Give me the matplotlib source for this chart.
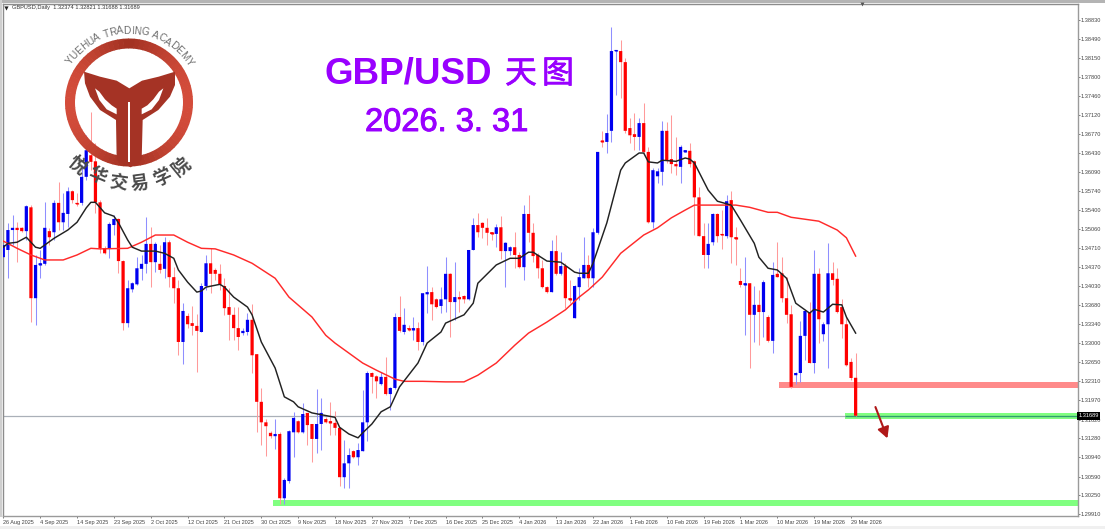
import numpy as np
import matplotlib
matplotlib.use("Agg")
import matplotlib.pyplot as plt
import matplotlib.patheffects as pe
from matplotlib.patches import Polygon, Wedge, Rectangle

plt.rcParams['font.family'] = ['Liberation Sans', 'Noto Sans CJK SC', 'DejaVu Sans']

# ---------- data (prices in units of 0.0001) ----------
directions = ("bbbrrbrbbb" "rbrbbrrbbr" "rrrbbrrbbb" "bbrbrbrrrb" "rrrbbrrrrr"
              "rrbbrrrrrb" "rbbbrbrrbb" "rrrrbbrbbb" "rrbrbbrbrb" "rbbrrbbrbr"
              "rbbrrrrbrb" "brrbrrrrrb" "rbrrbbbrbb" "rbbbrrrrbr" "rbbbrrrbbr"
              "rrrbbrrbrr" "rbrbrbrbrr" "rrbbbrbrbb" "rrrrrr")
body_high = [
 13477,13504,13508,13508,13508,13547,13545,13441,13444,13508,
 13502,13553,13553,13535,13574,13574,13553,13600,13648,13639,
 13628,13554,13471,13515,13524,13524,13448,13399,13408,13435,
 13443,13479,13479,13479,13443,13482,13482,13419,13399,13358,
 13349,13336,13331,13403,13444,13444,13432,13425,13403,13365,
 13351,13327,13322,13342,13342,13280,13194,13157,13138,13136,
 13136,13053,13141,13165,13159,13172,13174,13154,13154,13174,
 13163,13159,13156,13147,13083,13098,13105,13107,13157,13246,
 13246,13240,13239,13239,13219,13347,13347,13333,13327,13327,
 13327,13390,13392,13392,13379,13379,13425,13425,13383,13383,
 13385,13468,13513,13513,13517,13508,13500,13509,13509,13481,
 13473,13473,13459,13533,13533,13499,13459,13435,13401,13466,
 13466,13439,13439,13381,13403,13419,13441,13441,13500,13645,
 13665,13679,13827,13829,13827,13807,13688,13677,13697,13697,
 13645,13612,13610,13683,13683,13632,13623,13654,13648,13647,
 13628,13563,13493,13479,13533,13533,13497,13556,13558,13491,
 13412,13408,13408,13369,13369,13410,13347,13423,13425,13426,
 13381,13352,13246,13313,13358,13356,13425,13425,13334,13426,
 13426,13416,13365,13334,13266,13237.4]
body_low = [
 13455,13468,13504,13504,13502,13502,13381,13381,13441,13443,
 13491,13500,13518,13518,13533,13558,13551,13553,13600,13627,
 13554,13471,13462,13470,13513,13448,13336,13336,13397,13406,
 13434,13443,13446,13446,13432,13434,13419,13399,13302,13302,
 13334,13331,13322,13320,13403,13425,13425,13405,13363,13351,
 13327,13311,13318,13320,13278,13194,13157,13150,13132,13132,
 13020,13020,13051,13139,13139,13139,13152,13127,13127,13154,
 13157,13156,13147,13058,13058,13083,13094,13094,13105,13157,
 13239,13231,13226,13208,13208,13219,13322,13320,13325,13325,
 13302,13302,13388,13370,13365,13367,13379,13374,13374,13379,
 13379,13379,13468,13500,13508,13499,13497,13497,13466,13466,
 13466,13459,13437,13437,13499,13457,13435,13401,13392,13392,
 13425,13425,13381,13378,13345,13401,13417,13417,13417,13499,
 13663,13663,13683,13827,13807,13683,13675,13672,13672,13645,
 13518,13518,13601,13609,13630,13623,13619,13618,13645,13623,
 13563,13493,13459,13459,13482,13493,13495,13493,13491,13488,
 13405,13405,13351,13351,13356,13356,13304,13304,13419,13381,
 13351,13221,13242,13246,13313,13264,13264,13343,13316,13334,
 13414,13356,13334,13260,13237,13168.9]
wick_high = [
 13495,13517,13531,13518,13509,13549,13549,13459,13468,13554,
 13508,13558,13591,13571,13582,13576,13571,13621,13675,13717,
 13661,13558,13475,13518,13531,13526,13450,13414,13410,13455,
 13459,13527,13509,13482,13477,13491,13486,13437,13414,13372,
 13354,13367,13352,13408,13459,13471,13435,13443,13417,13399,
 13365,13365,13327,13354,13370,13280,13219,13163,13141,13163,
 13139,13056,13143,13176,13161,13192,13174,13154,13217,13201,
 13166,13194,13177,13147,13125,13111,13107,13120,13215,13249,
 13248,13242,13248,13275,13221,13354,13385,13363,13333,13347,
 13338,13390,13439,13401,13381,13401,13455,13426,13446,13394,
 13387,13468,13526,13535,13518,13526,13500,13515,13529,13482,
 13475,13500,13464,13549,13567,13517,13462,13450,13403,13486,
 13495,13464,13444,13414,13405,13435,13491,13459,13508,13645,
 13683,13713,13870,13829,13847,13814,13706,13715,13706,13733,
 13654,13616,13616,13701,13699,13711,13672,13657,13649,13661,
 13630,13581,13517,13517,13535,13535,13540,13567,13574,13509,
 13435,13455,13408,13403,13396,13414,13351,13446,13482,13455,
 13419,13369,13248,13340,13360,13374,13468,13435,13338,13480,
 13446,13435,13379,13347,13273,13282.1]
wick_low = [
 13435,13417,13477,13446,13500,13486,13338,13333,13417,13441,
 13477,13486,13504,13504,13509,13553,13547,13549,13594,13612,
 13535,13462,13461,13453,13495,13426,13324,13329,13392,13405,
 13414,13426,13401,13428,13426,13417,13401,13372,13278,13262,
 13327,13314,13248,13320,13396,13390,13414,13396,13351,13305,
 13305,13287,13314,13314,13246,13139,13116,13096,13129,13109,
 13010,13010,13047,13094,13138,13138,13116,13085,13102,13107,
 13156,13134,13134,13042,13038,13038,13092,13080,13105,13123,
 13210,13201,13224,13206,13179,13217,13320,13316,13322,13305,
 13287,13296,13354,13342,13363,13354,13356,13311,13342,13356,
 13372,13378,13468,13491,13490,13477,13486,13473,13452,13401,
 13459,13435,13435,13414,13482,13446,13417,13399,13390,13392,
 13423,13423,13363,13372,13345,13378,13417,13401,13401,13497,
 13654,13643,13663,13748,13742,13679,13661,13648,13648,13643,
 13517,13508,13589,13585,13625,13607,13603,13589,13644,13618,
 13495,13493,13435,13435,13477,13482,13470,13490,13444,13441,
 13401,13314,13255,13302,13296,13311,13302,13282,13419,13374,
 13336,13219,13226,13230,13269,13264,13246,13300,13304,13255,
 13405,13354,13309,13258,13233,13168.8]

black_bar = [0,1,3,5,6,7,8,9,11,14,16,18,19,20,22,24,25,27,28,30,33,35,37,38,40,42,43,44,47,48,50,53,54,56,59,61,63,64,67,72,73,75,77,78,80,82,84,86,90,92,95,96,100,102,103,107,110,112,114,115,118,121,124,125,127,128,131,134,135,138,139,140,142,143,146,148,149,150,153,155,158,160,163,164,166,168,170,172,175,176,178,180,182,183,185]
black_val = [13473,13480,13482,13491,13482,13473,13471,13477,13489,13504,13518,13544,13554,13554,13535,13529,13517,13486,13473,13466,13466,13462,13453,13432,13410,13392,13394,13401,13406,13401,13383,13365,13351,13302,13255,13203,13194,13185,13174,13166,13148,13136,13129,13138,13154,13176,13185,13221,13264,13300,13320,13336,13351,13372,13408,13441,13453,13453,13464,13464,13448,13446,13428,13426,13426,13444,13517,13612,13625,13643,13643,13627,13625,13630,13628,13634,13632,13625,13576,13556,13549,13522,13480,13455,13435,13432,13417,13372,13354,13361,13356,13370,13369,13347,13318]
red_bar = [0,3,6,9,13,16,19,21,27,30,33,37,40,43,46,50,54,59,62,67,70,72,75,78,81,85,87,91,96,100,103,107,111,114,118,122,125,127,130,134,139,142,145,148,150,157,159,162,166,168,171,177,181,183,185]
red_val = [13484,13471,13459,13450,13450,13459,13471,13470,13471,13482,13495,13495,13482,13471,13470,13459,13444,13417,13383,13347,13314,13300,13282,13264,13251,13235,13231,13231,13230,13230,13242,13264,13296,13318,13338,13360,13383,13396,13419,13462,13495,13508,13526,13540,13549,13549,13549,13545,13536,13536,13527,13520,13504,13490,13457]

y_tick_labels = ["1.38830","1.38490","1.38150","1.37800","1.37460","1.37120","1.36770","1.36430",
                 "1.36090","1.35740","1.35400","1.35060","1.34710","1.34370","1.34030","1.33680",
                 "1.33340","1.33000","1.32650","1.32310","1.31970","1.31620","1.31280","1.30940",
                 "1.30590","1.30250","1.29910"]
date_labels = ["26 Aug 2025","4 Sep 2025","14 Sep 2025","23 Sep 2025","2 Oct 2025","12 Oct 2025",
               "21 Oct 2025","30 Oct 2025","9 Nov 2025","18 Nov 2025","27 Nov 2025","7 Dec 2025",
               "16 Dec 2025","25 Dec 2025","4 Jan 2026","13 Jan 2026","22 Jan 2026","1 Feb 2026",
               "10 Feb 2026","19 Feb 2026","1 Mar 2026","10 Mar 2026","19 Mar 2026","29 Mar 2026"]
date_every = 8
last_price = 1.31689
zones = [(58.5, 1.30065, 1.30168, '#80ff80'),
         (168.3, 1.32195, 1.32292, '#ff8a8a'),
         (182.7, 1.31624, 1.31738, '#80ff80')]

# ---------- figure ----------
W, H = 1105, 529
fig = plt.figure(figsize=(W/100, H/100), dpi=100, facecolor='white')
L, R, T, B = 3.0, 1077.7, 3.5, 515.7
ax = fig.add_axes([L/W, 1-B/H, (R-L)/W, (B-T)/H])
ax.set_xlim(-0.065, 233.2)
ax.set_ylim(1.29885, 1.39128)

bh, bl = np.array(body_high)/1e4, np.array(body_low)/1e4
wh, wl = np.array(wick_high)/1e4, np.array(wick_low)/1e4
x = np.arange(len(directions))
up = np.array([d == 'b' for d in directions])

for z0, lo, hi, col in zones:
    ax.add_patch(Rectangle((z0, lo), 233.2-z0, hi-lo, fc=col, ec='none', zorder=1))

ax.axhline(last_price, color='#aab0b8', lw=0.9, zorder=1.5)
ax.hlines(last_price, zones[2][0], 233.2, color='#2f9f6f', lw=0.9, zorder=1.6)

ax.vlines(x[up], wl[up], wh[up], color='#8f8fff', lw=0.75, zorder=2)
ax.vlines(x[~up], wl[~up], wh[~up], color='#ff9a9a', lw=0.75, zorder=2)
for mask, col in ((up, '#0000f0'), (~up, '#ff0000')):
    bars = ax.bar(x[mask], (bh-bl)[mask], bottom=bl[mask], width=0.7, color=col, lw=0, zorder=3)
    for b in bars:
        b.set_snap(False)
    small = mask & ((bh-bl) < 0.00035)
    ax.vlines(x[small], bl[small]-0.00006, bh[small]+0.00006, color=col, lw=2.3, zorder=3)

ax.plot(red_bar, np.array(red_val)/1e4, color='#ff2a2a', lw=1.05, zorder=4)
ax.plot(black_bar, np.array(black_val)/1e4, color='#222222', lw=1.05, zorder=5)

ax.annotate('', xy=(191.9, 1.31281), xytext=(189.3, 1.31846),
            arrowprops=dict(arrowstyle='-|>,head_width=0.35,head_length=0.65', color='#b01818', lw=1.5,
                            shrinkA=0, shrinkB=0), zorder=6)

for s in ('left', 'top'):
    ax.spines[s].set_color('#8c8c8c'); ax.spines[s].set_linewidth(1.0)
for s in ('right', 'bottom'):
    ax.spines[s].set_color('#9a9a9a'); ax.spines[s].set_linewidth(1.0)

ax.yaxis.tick_right()
ax.set_yticks([float(v) for v in y_tick_labels])
ax.set_yticklabels(y_tick_labels, fontsize=4.1, color='#444444')
ax.set_xticks(np.arange(len(date_labels))*date_every)
ax.set_xticklabels(date_labels, fontsize=4.0, color='#444444', ha='left')
ax.tick_params(axis='y', length=1.4, width=0.6, color='#666666', pad=0.4)
ax.tick_params(axis='x', length=1.6, width=0.6, color='#666666', pad=1.3)

ax.text(1.0007, last_price, '1.31689', transform=ax.get_yaxis_transform(), fontsize=4.1, color='white',
        va='center', ha='left', zorder=10,
        bbox=dict(boxstyle='square,pad=0.25', fc='black', ec='none'), clip_on=False)

# ---------- overlay in picture pixels ----------
ov = fig.add_axes([0, 0, 1, 1], facecolor='none')
ov.set_xlim(0, W); ov.set_ylim(H, 0); ov.axis('off')
ov.set_zorder(5)

# outer window frame
ov.add_patch(Rectangle((0, 0), W, 2.6, fc='#b4b4b4', ec='none'))
ov.add_patch(Rectangle((0, 0), 2.4, 517, fc='#cfcfcf', ec='none'))
ov.add_patch(Rectangle((0, 525.5), W, 3.5, fc='#f0f0f0', ec='none'))
ov.plot([861.7], [4.0], marker='v', ms=2.8, color='#555555', mec='none')
ov.plot([6.2], [7.6], marker='v', ms=3.0, color='#222222', mec='none')
ov.text(12, 7.6, 'GBPUSD,Daily  1.32374 1.32821 1.31688 1.31689', fontsize=4.1, color='#333333', va='center', ha='left')

# titles
PURPLE = '#9900ff'
ov.text(325, 73.5, 'GBP/USD', fontsize=26.5, fontweight='bold', color=PURPLE, va='center', ha='left')
thick = [pe.withStroke(linewidth=0.5, foreground=PURPLE)]
ov.text(521, 74, '天', fontsize=23, color=PURPLE, va='center', ha='center', family=['Noto Sans CJK SC'], path_effects=thick)
ov.text(558, 74, '图', fontsize=23, color=PURPLE, va='center', ha='center', family=['Noto Sans CJK SC'], path_effects=thick)
ov.text(365, 122.5, '2026. 3. 31', fontsize=23.5, color=PURPLE, va='center', ha='left',
        path_effects=[pe.withStroke(linewidth=0.7, foreground=PURPLE)])

# logo
cx, cy, r_out, r_in = 129.0, 102.5, 64.0, 54.0
for k in range(72):
    t0, t1 = k*5, k*5+5.6
    m = abs(np.cos(np.deg2rad(t0+2.5)))
    col = np.array([0.63, 0.19, 0.13])*(1-m) + np.array([0.83, 0.30, 0.23])*m
    ov.add_patch(Wedge((cx, cy), r_out, -t1, -t0, width=r_out-r_in, fc=col, ec='none'))

def z(points):
    return [(60+a/3, 60+b/3) for a, b in points]

tail = [(72,35),(120,50),(170,62),(208,85),(246,62),(296,50),(345,35),(345,75),(330,110),(295,150),
        (248,180),(245,300),(212,322),(170,300),(168,180),(120,150),(90,110),(75,70)]
crescent_l = [(105,85),(118,95),(135,118),(155,136),(170,146),(170,163),(140,148),(118,120)]
crescent_r = [(310,85),(297,95),(280,118),(262,136),(245,146),(245,163),(275,148),(297,120)]
split = [(205,125),(211,125),(211,305),(205,305)]
ov.add_patch(Polygon(z(tail), closed=True, fc='#a53325', ec='none'))
ov.add_patch(Polygon(z(crescent_l), closed=True, fc='white', ec='none'))
ov.add_patch(Polygon(z(crescent_r), closed=True, fc='white', ec='none'))
ov.add_patch(Polygon(z(split), closed=True, fc='white', ec='none'))

# curved texts of the logo
arc_top = "YUEHUA TRADING ACADEMY"
narrow = {'I': 0.35, ' ': 0.4}
wide = {'M': 1.05, 'D': 0.85, 'G': 0.9, 'A': 0.82, 'U': 0.85, 'H': 0.85, 'N': 0.85, 'R': 0.82, 'C': 0.85, 'T': 0.72, 'E': 0.75, 'Y': 0.78}
w = np.array([narrow.get(c, wide.get(c, 0.8)) for c in arc_top])
edges = np.concatenate([[0], np.cumsum(w)])/w.sum()
mid = (edges[:-1]+edges[1:])/2
for c, f in zip(arc_top, mid):
    ang = 147 + (31-147)*f
    rad = np.deg2rad(ang)
    ov.text(cx+69*np.cos(rad), cy-69*np.sin(rad), c, fontsize=7.3, color='#6e6e6e',
            rotation=ang-90, rotation_mode='anchor', ha='center', va='baseline')

cn_chars = "悦华交易学院"
cn_px = [(77,165),(98,176),(118,183),(140,183),(162,177),(182,167)]
for c, (px, py) in zip(cn_chars, cn_px):
    ov.text(px, py, c, fontsize=13, fontweight='bold', color='#4a4a4a', rotation=np.degrees(np.arctan2(px-cx, py-cy)),
            rotation_mode='anchor', ha='center', va='center', family=['Noto Sans CJK SC'])

fig.savefig('out.png', dpi=100, facecolor='white')
